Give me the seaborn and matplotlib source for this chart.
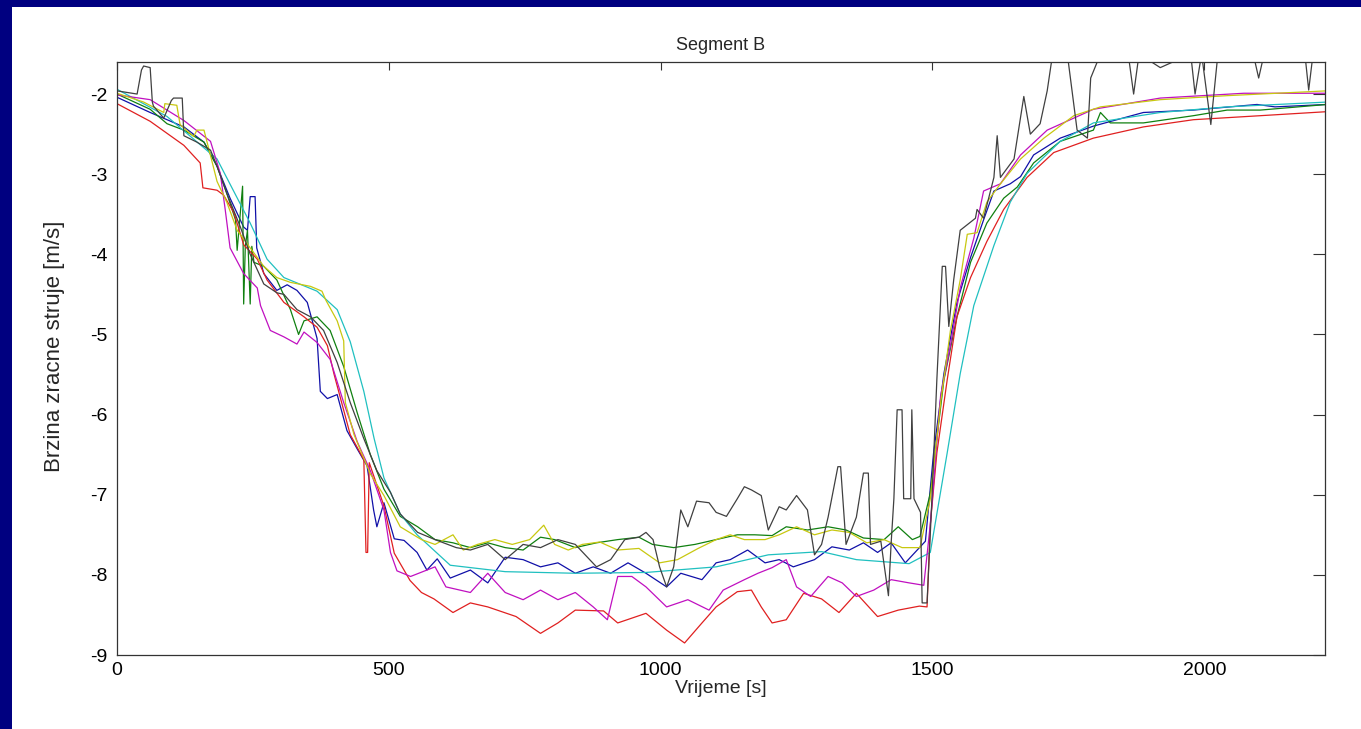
import matplotlib
matplotlib.use("Agg")
import matplotlib.pyplot as plt
from matplotlib.patches import Rectangle
import seaborn as sns

# Segment B - air stream velocity
cyan_x = [0, 92, 184, 245, 276, 307, 368, 405, 429, 454, 473, 491, 521, 552, 613, 714, 843, 973,
          1102, 1198, 1296, 1360, 1457, 1496, 1527, 1551, 1576, 1613, 1643, 1674, 1735, 1796, 1919, 2042, 2225]
cyan_y = [-1.94, -2.28, -2.81, -3.61, -4.06, -4.29, -4.46, -4.69, -5.09, -5.71, -6.30, -6.79, -7.24, -7.50,
          -7.88, -7.96, -7.98, -7.97, -7.90, -7.75, -7.71, -7.81, -7.86, -7.72, -6.48, -5.49, -4.64, -3.89,
          -3.35, -2.99, -2.59, -2.36, -2.23, -2.16, -2.10]

red_x = [0, 61, 123, 153, 158, 184, 196, 215, 233, 258,
         276, 307, 344, 368, 387, 399, 429, 454, 458, 461,
         464, 491, 510, 539, 560, 583, 618, 650, 682, 734,
         779, 811, 843, 895, 921, 973, 1011, 1044, 1076, 1102,
         1141, 1167, 1185, 1205, 1231, 1263, 1296, 1328, 1360, 1399,
         1437, 1476, 1490, 1496, 1508, 1527, 1545, 1570, 1600, 1631,
         1674, 1723, 1796, 1888, 1980, 2103, 2225]
red_y = [-2.12, -2.34, -2.64, -2.86, -3.17, -3.20, -3.26, -3.48, -3.88, -4.06,
         -4.32, -4.60, -4.78, -4.91, -5.14, -5.49, -6.25, -6.56, -7.72, -7.72,
         -6.60, -7.14, -7.73, -8.07, -8.22, -8.30, -8.47, -8.35, -8.40, -8.52,
         -8.73, -8.60, -8.44, -8.45, -8.60, -8.48, -8.69, -8.85, -8.60, -8.40,
         -8.21, -8.19, -8.40, -8.60, -8.56, -8.23, -8.30, -8.47, -8.23, -8.52,
         -8.44, -8.39, -8.40, -7.37, -6.48, -5.57, -4.78, -4.29, -3.84, -3.44,
         -3.04, -2.73, -2.55, -2.41, -2.32, -2.27, -2.22]

magenta_x = [0, 61, 123, 172, 190, 199, 208, 233, 258, 264,
             282, 307, 331, 344, 368, 392, 417, 442, 466, 491,
             503, 515, 540, 585, 605, 650, 682, 714, 747, 779,
             811, 843, 876, 902, 921, 947, 973, 1011, 1050, 1089,
             1115, 1154, 1179, 1205, 1231, 1250, 1276, 1308, 1334, 1360,
             1392, 1424, 1457, 1484, 1496, 1515, 1533, 1551, 1576, 1594,
             1625, 1662, 1711, 1796, 1919, 2073, 2225]
magenta_y = [-2.01, -2.07, -2.33, -2.59, -2.99, -3.44, -3.92, -4.24, -4.42, -4.64,
             -4.95, -5.03, -5.12, -4.97, -5.10, -5.31, -5.85, -6.34, -6.70, -7.19,
             -7.72, -7.95, -8.02, -7.90, -8.15, -8.22, -7.98, -8.22, -8.31, -8.19,
             -8.31, -8.22, -8.40, -8.56, -8.02, -8.02, -8.15, -8.40, -8.31, -8.44,
             -8.19, -8.06, -7.98, -7.91, -7.81, -8.15, -8.27, -8.02, -8.10, -8.27,
             -8.19, -8.06, -8.10, -8.13, -7.37, -5.76, -5.14, -4.42, -3.80, -3.21,
             -3.12, -2.76, -2.45, -2.19, -2.05, -1.99, -1.99]

yellow_x = [0, 49, 86, 88, 110, 116, 141, 147, 160, 171,
            184, 202, 221, 245, 270, 294, 319, 356, 377, 384,
            405, 417, 420, 436, 466, 491, 521, 560, 585, 618,
            637, 663, 695, 727, 759, 785, 805, 830, 856, 888,
            921, 960, 998, 1031, 1069, 1102, 1128, 1154, 1192, 1218,
            1250, 1283, 1315, 1347, 1379, 1411, 1444, 1477, 1496, 1515,
            1533, 1551, 1564, 1582, 1600, 1625, 1662, 1705, 1760, 1809,
            1919, 2042, 2225]
yellow_y = [-1.99, -2.10, -2.23, -2.12, -2.14, -2.38, -2.53, -2.45, -2.45, -2.74,
            -3.09, -3.35, -3.70, -3.92, -4.15, -4.29, -4.35, -4.40, -4.46, -4.57,
            -4.83, -5.08, -5.85, -6.25, -6.74, -7.01, -7.40, -7.56, -7.62, -7.50,
            -7.69, -7.62, -7.56, -7.62, -7.56, -7.38, -7.62, -7.69, -7.62, -7.59,
            -7.69, -7.67, -7.85, -7.81, -7.67, -7.56, -7.50, -7.56, -7.56, -7.50,
            -7.40, -7.50, -7.44, -7.47, -7.60, -7.56, -7.66, -7.66, -7.05, -5.85,
            -4.95, -4.32, -3.75, -3.73, -3.35, -3.12, -2.81, -2.55, -2.27, -2.16,
            -2.07, -2.02, -1.96]

green_x = [0, 61, 92, 123, 160, 184, 202,
           218, 221, 226, 231, 233, 236, 240, 245, 248, 252,
           270, 294, 319, 334, 344, 368, 392, 417, 442, 466,
           491, 521, 553, 585, 618, 650, 682, 714, 747, 779,
           805, 843, 882, 921, 960, 985, 1024, 1063, 1102, 1141,
           1173, 1205, 1231, 1270, 1308, 1341, 1373, 1411, 1437, 1463,
           1477, 1496, 1521, 1545, 1570, 1600, 1631, 1656, 1686, 1735,
           1796, 1809, 1827, 1888, 1980, 2042, 2103, 2225]
green_y = [-2.00, -2.19, -2.37, -2.45, -2.60, -2.90, -3.24,
           -3.57, -3.95, -3.55, -3.15, -4.62, -3.90, -3.70, -4.62, -3.90, -4.10,
           -4.15, -4.32, -4.69, -5.00, -4.83, -4.78, -4.95, -5.40, -5.98, -6.50,
           -6.93, -7.27, -7.40, -7.56, -7.60, -7.66, -7.60, -7.66, -7.69, -7.53,
           -7.56, -7.66, -7.60, -7.56, -7.53, -7.62, -7.66, -7.62, -7.56, -7.50,
           -7.50, -7.51, -7.40, -7.44, -7.40, -7.44, -7.54, -7.56, -7.40, -7.56,
           -7.52, -6.98, -5.57, -4.78, -4.10, -3.61, -3.30, -3.16, -2.86, -2.59,
           -2.45, -2.23, -2.36, -2.36, -2.27, -2.20, -2.20, -2.13]

blue_x = [0, 61, 123, 160, 184, 208, 233, 240, 245, 254,
          257, 270, 294, 313, 331, 350, 368, 374, 387, 405,
          423, 442, 460, 472, 478, 491, 510, 528, 552, 570,
          589, 613, 650, 682, 714, 747, 779, 811, 843, 876,
          908, 940, 973, 1011, 1037, 1076, 1102, 1128, 1160, 1192,
          1218, 1244, 1283, 1315, 1347, 1373, 1399, 1424, 1450, 1487,
          1502, 1521, 1545, 1570, 1594, 1613, 1643, 1662, 1686, 1735,
          1796, 1888, 1980, 2097, 2130, 2225]
blue_y = [-2.04, -2.23, -2.41, -2.60, -2.90, -3.30, -3.66, -3.70, -3.28, -3.28,
          -3.92, -4.24, -4.45, -4.38, -4.45, -4.60, -5.05, -5.71, -5.80, -5.75,
          -6.20, -6.43, -6.64, -7.19, -7.40, -7.10, -7.55, -7.57, -7.72, -7.94,
          -7.80, -8.04, -7.94, -8.10, -7.78, -7.81, -7.90, -7.85, -7.98, -7.90,
          -7.98, -7.85, -7.98, -8.15, -7.98, -8.06, -7.85, -7.81, -7.69, -7.85,
          -7.81, -7.90, -7.81, -7.65, -7.69, -7.60, -7.72, -7.60, -7.85, -7.58,
          -6.48, -5.49, -4.60, -4.04, -3.57, -3.21, -3.12, -3.03, -2.76, -2.55,
          -2.40, -2.23, -2.20, -2.13, -2.16, -2.13]

black_x = [0, 37, 45, 49, 61, 65, 67, 86, 100, 104,
           120, 123, 147, 172, 184, 202, 227, 245, 270, 294,
           307, 331, 356, 380, 405, 429, 454, 478, 503, 521,
           553, 585, 624, 650, 682, 714, 747, 779, 811, 843,
           882, 908, 934, 960, 973, 986, 998, 1011, 1024, 1037,
           1050, 1066, 1089, 1102, 1121, 1141, 1154, 1167, 1185, 1198,
           1218, 1231, 1250, 1270, 1283, 1296, 1308, 1326, 1331, 1341,
           1360, 1373, 1382, 1386, 1405, 1419, 1424, 1429, 1435, 1444,
           1447, 1460, 1462, 1466, 1478, 1481, 1490, 1499, 1508, 1518,
           1524, 1530, 1539, 1551, 1564, 1579, 1582, 1594, 1613, 1619,
           1625, 1650, 1668, 1680, 1698, 1711, 1721, 1748, 1766, 1785,
           1791, 1809, 1860, 1870, 1880, 1919, 1975, 1983, 1995, 2012,
           2025, 2090, 2100, 2110, 2185, 2192, 2200, 2225]
black_y = [-1.96, -2.00, -1.70, -1.65, -1.67, -2.10, -2.15, -2.30, -2.08, -2.05,
           -2.05, -2.52, -2.60, -2.70, -2.90, -3.24, -3.66, -4.00, -4.37, -4.48,
           -4.50, -4.69, -4.78, -4.95, -5.35, -5.85, -6.30, -6.70, -6.97, -7.24,
           -7.47, -7.56, -7.66, -7.69, -7.62, -7.81, -7.62, -7.66, -7.56, -7.62,
           -7.90, -7.81, -7.56, -7.53, -7.47, -7.56, -7.90, -8.15, -7.90, -7.19,
           -7.40, -7.08, -7.10, -7.22, -7.27, -7.05, -6.90, -6.94, -7.01, -7.44,
           -7.15, -7.19, -7.01, -7.19, -7.75, -7.62, -7.28, -6.65, -6.65, -7.62,
           -7.28, -6.73, -6.73, -7.62, -7.58, -8.26, -7.60, -7.05, -5.94, -5.94,
           -7.05, -7.05, -5.94, -7.05, -7.22, -8.35, -8.35, -7.05, -5.57, -4.15,
           -4.15, -4.90, -4.32, -3.70, -3.63, -3.55, -3.44, -3.55, -3.04, -2.52,
           -3.04, -2.81, -2.03, -2.50, -2.37, -1.96, -1.50, -1.50, -2.45, -2.55,
           -1.80, -1.50, -1.50, -2.00, -1.50, -1.67, -1.50, -2.00, -1.50, -2.38,
           -1.50, -1.50, -1.80, -1.50, -1.50, -1.95, -1.50, -1.50]

# MATLAB-style default colour order
series = [
    (blue_x, blue_y, "#1010a8"),
    (green_x, green_y, "#108010"),
    (red_x, red_y, "#e02020"),
    (cyan_x, cyan_y, "#20c0c0"),
    (magenta_x, magenta_y, "#c010c0"),
    (yellow_x, yellow_y, "#c8c810"),
    (black_x, black_y, "#404040"),
]

sns.set_style("white")
plt.rcParams["font.family"] = ["Liberation Sans", "DejaVu Sans"]
plt.rcParams["axes.unicode_minus"] = False

fig = plt.figure(figsize=(13.61, 7.29), dpi=100, facecolor="#000080")
fig.add_artist(Rectangle((12 / 1361, 0), 1 - 12 / 1361, 1 - 7 / 729,
                         transform=fig.transFigure, facecolor="white",
                         edgecolor="none", zorder=0))
ax = fig.add_axes([117 / 1361, 1 - 655 / 729, 1208 / 1361, 593 / 729])

for xs, ys, col in series:
    sns.lineplot(x=xs, y=ys, ax=ax, color=col, linewidth=0.9,
                 sort=False, estimator=None)

ax.set_xlim(0, 2222)
ax.set_ylim(-9, -1.6)
ax.set_xticks([0, 500, 1000, 1500, 2000])
ax.set_yticks([-9, -8, -7, -6, -5, -4, -3, -2])
ax.tick_params(axis="both", direction="in", top=True, right=True,
               labelsize=14, colors="#333333", labelcolor="black", width=0.8)
ax.tick_params(axis="x", length=6, pad=5)
ax.tick_params(axis="y", length=8.7, pad=7)
for sp in ax.spines.values():
    sp.set_color("#333333")
    sp.set_linewidth(0.9)

ax.set_title("Segment B", fontsize=13, pad=9)
ax.set_xlabel("Vrijeme [s]", fontsize=14, labelpad=1)
ax.set_ylabel("Brzina zracne struje [m/s]", fontsize=16)
ax.yaxis.set_label_coords(-0.043, 0.52)

plt.savefig("out.png", dpi=100, facecolor=fig.get_facecolor())
